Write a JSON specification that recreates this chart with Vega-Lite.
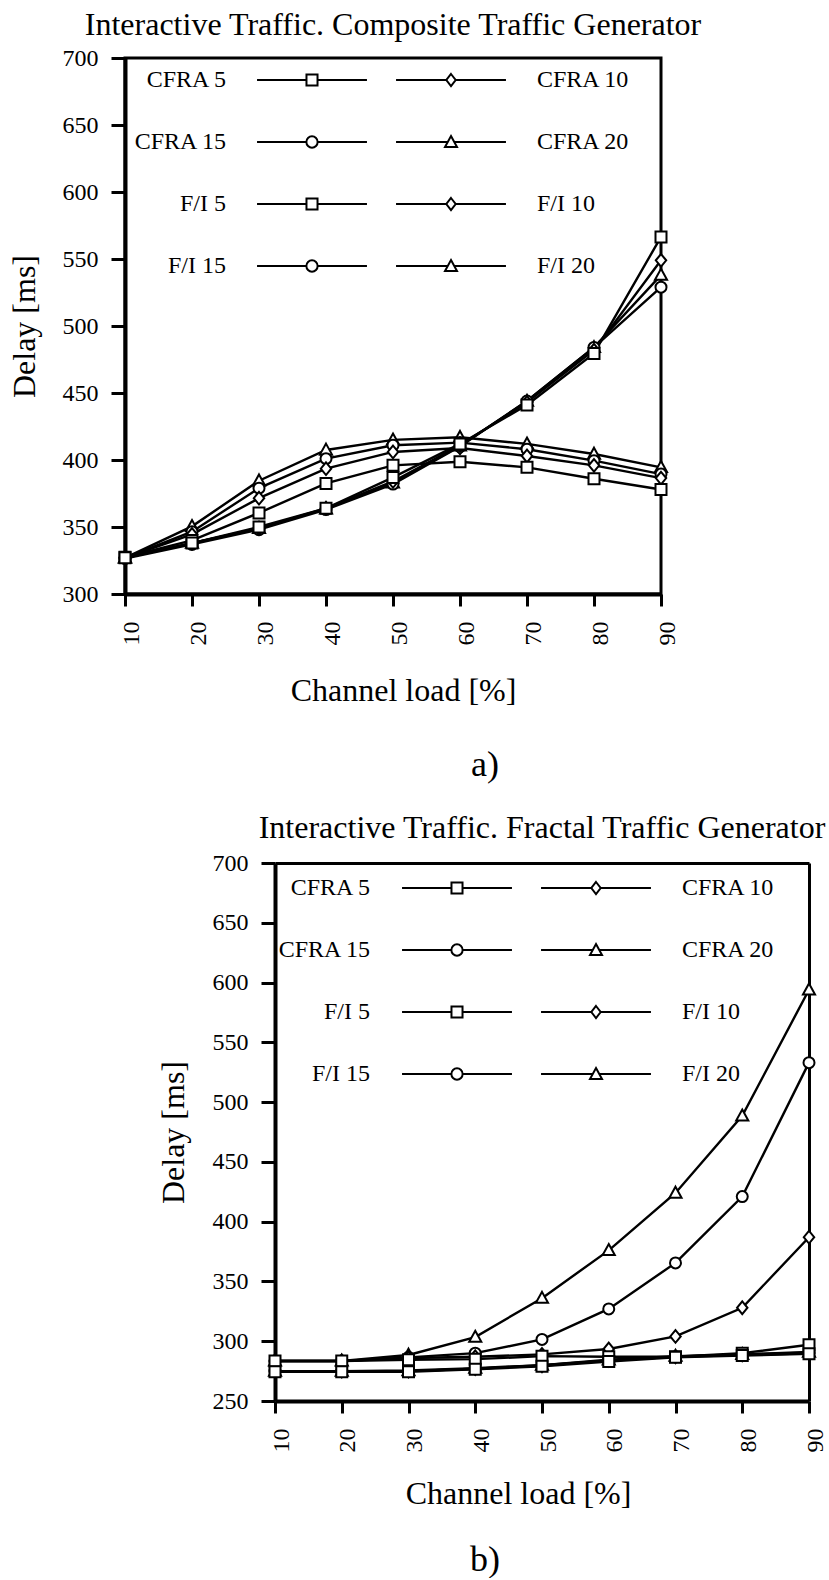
{
  "$schema": "https://vega.github.io/schema/vega-lite/v6.json",
  "background": "white",
  "padding": {"left": 0, "top": 7, "right": 0, "bottom": 0},
  "spacing": 29,
  "config": {
    "font": "Liberation Serif",
    "view": {"stroke": "black", "strokeWidth": 3},
    "axis": {
      "labelFont": "Liberation Serif", "labelFontSize": 24, "labelColor": "black",
      "titleFont": "Liberation Serif", "titleFontSize": 32, "titleFontWeight": "normal", "titleColor": "black",
      "domainColor": "black", "tickColor": "black", "grid": false,
      "domainWidth": 4, "tickWidth": 3, "labelFlush": false, "labelOverlap": false
    },
    "title": {"font": "Liberation Serif", "fontSize": 32, "fontWeight": "normal", "color": "black"},
    "legend": {"labelFont": "Liberation Serif", "labelFontSize": 24, "labelColor": "black", "padding": 0, "labelLimit": 0}
  },
  "datasets": {
    "a": [
      {"series":"F/I 20","load":10,"delay":327},{"series":"F/I 20","load":20,"delay":350.5},{"series":"F/I 20","load":30,"delay":384.5},{"series":"F/I 20","load":40,"delay":407.5},{"series":"F/I 20","load":50,"delay":415},{"series":"F/I 20","load":60,"delay":417},{"series":"F/I 20","load":70,"delay":412},{"series":"F/I 20","load":80,"delay":404.5},{"series":"F/I 20","load":90,"delay":394.5},
      {"series":"CFRA 20","load":10,"delay":327},{"series":"CFRA 20","load":20,"delay":338},{"series":"CFRA 20","load":30,"delay":349},{"series":"CFRA 20","load":40,"delay":363.5},{"series":"CFRA 20","load":50,"delay":383},{"series":"CFRA 20","load":60,"delay":410.5},{"series":"CFRA 20","load":70,"delay":444},{"series":"CFRA 20","load":80,"delay":484},{"series":"CFRA 20","load":90,"delay":538},
      {"series":"F/I 15","load":10,"delay":327},{"series":"F/I 15","load":20,"delay":346.5},{"series":"F/I 15","load":30,"delay":379},{"series":"F/I 15","load":40,"delay":401},{"series":"F/I 15","load":50,"delay":411},{"series":"F/I 15","load":60,"delay":413},{"series":"F/I 15","load":70,"delay":408},{"series":"F/I 15","load":80,"delay":399.5},{"series":"F/I 15","load":90,"delay":389.5},
      {"series":"CFRA 15","load":10,"delay":326.5},{"series":"CFRA 15","load":20,"delay":337},{"series":"CFRA 15","load":30,"delay":348},{"series":"CFRA 15","load":40,"delay":363},{"series":"CFRA 15","load":50,"delay":382},{"series":"CFRA 15","load":60,"delay":410},{"series":"CFRA 15","load":70,"delay":444},{"series":"CFRA 15","load":80,"delay":484},{"series":"CFRA 15","load":90,"delay":529},
      {"series":"F/I 10","load":10,"delay":327},{"series":"F/I 10","load":20,"delay":344.5},{"series":"F/I 10","load":30,"delay":371.5},{"series":"F/I 10","load":40,"delay":393.5},{"series":"F/I 10","load":50,"delay":406},{"series":"F/I 10","load":60,"delay":409},{"series":"F/I 10","load":70,"delay":403},{"series":"F/I 10","load":80,"delay":396},{"series":"F/I 10","load":90,"delay":386.5},
      {"series":"CFRA 10","load":10,"delay":327},{"series":"CFRA 10","load":20,"delay":338},{"series":"CFRA 10","load":30,"delay":349},{"series":"CFRA 10","load":40,"delay":364},{"series":"CFRA 10","load":50,"delay":384},{"series":"CFRA 10","load":60,"delay":411},{"series":"CFRA 10","load":70,"delay":443},{"series":"CFRA 10","load":80,"delay":482},{"series":"CFRA 10","load":90,"delay":549},
      {"series":"F/I 5","load":10,"delay":327.5},{"series":"F/I 5","load":20,"delay":340},{"series":"F/I 5","load":30,"delay":360.5},{"series":"F/I 5","load":40,"delay":382.5},{"series":"F/I 5","load":50,"delay":396},{"series":"F/I 5","load":60,"delay":398.7},{"series":"F/I 5","load":70,"delay":394.5},{"series":"F/I 5","load":80,"delay":386},{"series":"F/I 5","load":90,"delay":378},
      {"series":"CFRA 5","load":10,"delay":327},{"series":"CFRA 5","load":20,"delay":338},{"series":"CFRA 5","load":30,"delay":350},{"series":"CFRA 5","load":40,"delay":364},{"series":"CFRA 5","load":50,"delay":387},{"series":"CFRA 5","load":60,"delay":412},{"series":"CFRA 5","load":70,"delay":441},{"series":"CFRA 5","load":80,"delay":479.5},{"series":"CFRA 5","load":90,"delay":566.5}
    ],
    "b": [
      {"series":"F/I 20","load":10,"delay":283.5},{"series":"F/I 20","load":20,"delay":283.5},{"series":"F/I 20","load":30,"delay":288.5},{"series":"F/I 20","load":40,"delay":303.5},{"series":"F/I 20","load":50,"delay":336},{"series":"F/I 20","load":60,"delay":376},{"series":"F/I 20","load":70,"delay":424},{"series":"F/I 20","load":80,"delay":488.5},{"series":"F/I 20","load":90,"delay":594},
      {"series":"CFRA 20","load":10,"delay":275},{"series":"CFRA 20","load":20,"delay":275},{"series":"CFRA 20","load":30,"delay":275.5},{"series":"CFRA 20","load":40,"delay":277.5},{"series":"CFRA 20","load":50,"delay":280},{"series":"CFRA 20","load":60,"delay":284.5},{"series":"CFRA 20","load":70,"delay":287.5},{"series":"CFRA 20","load":80,"delay":289},{"series":"CFRA 20","load":90,"delay":291},
      {"series":"F/I 15","load":10,"delay":283.5},{"series":"F/I 15","load":20,"delay":283.5},{"series":"F/I 15","load":30,"delay":286.5},{"series":"F/I 15","load":40,"delay":290},{"series":"F/I 15","load":50,"delay":301.5},{"series":"F/I 15","load":60,"delay":327},{"series":"F/I 15","load":70,"delay":365.5},{"series":"F/I 15","load":80,"delay":421},{"series":"F/I 15","load":90,"delay":533},
      {"series":"CFRA 15","load":10,"delay":275},{"series":"CFRA 15","load":20,"delay":275},{"series":"CFRA 15","load":30,"delay":275},{"series":"CFRA 15","load":40,"delay":277},{"series":"CFRA 15","load":50,"delay":280},{"series":"CFRA 15","load":60,"delay":284},{"series":"CFRA 15","load":70,"delay":287},{"series":"CFRA 15","load":80,"delay":289},{"series":"CFRA 15","load":90,"delay":290.5},
      {"series":"F/I 10","load":10,"delay":283.5},{"series":"F/I 10","load":20,"delay":283.5},{"series":"F/I 10","load":30,"delay":286},{"series":"F/I 10","load":40,"delay":287},{"series":"F/I 10","load":50,"delay":289},{"series":"F/I 10","load":60,"delay":293.5},{"series":"F/I 10","load":70,"delay":304},{"series":"F/I 10","load":80,"delay":328},{"series":"F/I 10","load":90,"delay":387},
      {"series":"CFRA 10","load":10,"delay":275},{"series":"CFRA 10","load":20,"delay":275},{"series":"CFRA 10","load":30,"delay":275},{"series":"CFRA 10","load":40,"delay":277},{"series":"CFRA 10","load":50,"delay":279.5},{"series":"CFRA 10","load":60,"delay":284},{"series":"CFRA 10","load":70,"delay":287},{"series":"CFRA 10","load":80,"delay":288.5},{"series":"CFRA 10","load":90,"delay":290},
      {"series":"F/I 5","load":10,"delay":283.5},{"series":"F/I 5","load":20,"delay":283.5},{"series":"F/I 5","load":30,"delay":284.5},{"series":"F/I 5","load":40,"delay":285},{"series":"F/I 5","load":50,"delay":287.5},{"series":"F/I 5","load":60,"delay":287},{"series":"F/I 5","load":70,"delay":287},{"series":"F/I 5","load":80,"delay":290},{"series":"F/I 5","load":90,"delay":297},
      {"series":"CFRA 5","load":10,"delay":274.5},{"series":"CFRA 5","load":20,"delay":274.5},{"series":"CFRA 5","load":30,"delay":274.5},{"series":"CFRA 5","load":40,"delay":276.5},{"series":"CFRA 5","load":50,"delay":279},{"series":"CFRA 5","load":60,"delay":283},{"series":"CFRA 5","load":70,"delay":286.5},{"series":"CFRA 5","load":80,"delay":288},{"series":"CFRA 5","load":90,"delay":289.5}
    ]
  },
  "vconcat": [
    {
      "title": {"text": "a)", "orient": "bottom", "anchor": "start", "frame": "group", "dx": 360, "align": "center", "baseline": "alphabetic", "offset": 68, "fontSize": 36},
      "vconcat": [
        {
          "width": 536, "height": 536,
          "title": {"text": "Interactive Traffic. Composite Traffic Generator", "frame": "group", "anchor": "middle", "baseline": "alphabetic", "offset": -21},
          "data": {"name": "a"},
          "layer": [
            {
              "mark": {"type": "line", "color": "black", "strokeWidth": 2.4},
              "encoding": {
                "x": {"field": "load", "type": "quantitative", "scale": {"domain": [10, 90], "nice": false, "zero": false},
                  "axis": {"title": "Channel load [%]", "values": [10,20,30,40,50,60,70,80,90], "labelAngle": -90, "labelAlign": "right", "labelBaseline": "middle", "labelOffset": 6, "labelPadding": 15, "tickSize": 12, "titleX": 278, "titleY": 106, "titleBaseline": "alphabetic", "titleAlign": "center"}},
                "y": {"field": "delay", "type": "quantitative", "scale": {"domain": [300, 700], "nice": false, "zero": false},
                  "axis": {"title": "Delay [ms]", "values": [300,350,400,450,500,550,600,650,700], "tickSize": 14, "labelPadding": 13, "minExtent": 123, "titleX": -101, "titleY": 268, "titleAngle": -90, "titleBaseline": "middle", "titleAlign": "center"}},
                "detail": {"field": "series", "type": "nominal"}
              }
            },
            {
              "mark": {"type": "point", "filled": true, "fill": "white", "stroke": "black", "strokeWidth": 2, "size": 121, "opacity": 1},
              "encoding": {
                "x": {"field": "load", "type": "quantitative"},
                "y": {"field": "delay", "type": "quantitative"},
                "shape": {"field": "series", "type": "nominal", "legend": null,
                  "scale": {"domain": ["CFRA 5","CFRA 10","CFRA 15","CFRA 20","F/I 5","F/I 10","F/I 15","F/I 20"],
                    "range": ["M-1,-1L1,-1L1,1L-1,1Z","M0,-1.15L0.95,0L0,1.15L-0.95,0Z","circle","M0,-1.15L1.1,0.85L-1.1,0.85Z","M-1,-1L1,-1L1,1L-1,1Z","M0,-1.15L0.95,0L0,1.15L-0.95,0Z","circle","M0,-1.15L1.1,0.85L-1.1,0.85Z"]}}
              }
            },
            {
              "data": {"values": []},
              "mark": {"type": "point", "filled": true, "fill": "white", "stroke": "black", "strokeWidth": 2, "opacity": 1},
              "encoding": {
                "shape": {"field": "series", "type": "nominal",
                  "scale": {"domain": ["CFRA 5","CFRA 15","F/I 5","F/I 15"],
                    "range": ["M-4.58,0L-0.46,0M0.46,0L4.58,0M-0.46,-0.46L0.46,-0.46L0.46,0.46L-0.46,0.46Z","M-4.58,0L-0.47,0M0.47,0L4.58,0M0.47,0A0.47,0.47,0,1,1,-0.47,0A0.47,0.47,0,1,1,0.47,0Z","M-4.58,0L-0.46,0M0.46,0L4.58,0M-0.46,-0.46L0.46,-0.46L0.46,0.46L-0.46,0.46Z","M-4.58,0L-0.47,0M0.47,0L4.58,0M0.47,0A0.47,0.47,0,1,1,-0.47,0A0.47,0.47,0,1,1,0.47,0Z"]},
                  "legend": {"orient": "none", "legendX": 174, "legendY": 9, "title": null, "labelAlign": "right", "labelBaseline": "middle", "labelOffset": -99, "symbolSize": 576, "rowPadding": 37, "symbolStrokeWidth": 2}}
              }
            },
            {
              "data": {"values": []},
              "mark": {"type": "point", "filled": true, "fill": "white", "stroke": "black", "strokeWidth": 2, "opacity": 1},
              "encoding": {
                "shape": {"field": "series", "type": "nominal",
                  "scale": {"domain": ["CFRA 10","CFRA 20","F/I 10","F/I 20"],
                    "range": ["M-4.58,0L-0.39,0M0.39,0L4.58,0M0,-0.5L0.39,0L0,0.5L-0.39,0Z","M-4.58,0L-0.27,0M0.27,0L4.58,0M0,-0.5L0.5,0.42L-0.5,0.42Z","M-4.58,0L-0.39,0M0.39,0L4.58,0M0,-0.5L0.39,0L0,0.5L-0.39,0Z","M-4.58,0L-0.27,0M0.27,0L4.58,0M0,-0.5L0.5,0.42L-0.5,0.42Z"]},
                  "legend": {"orient": "none", "legendX": 313, "legendY": 9, "title": null, "labelAlign": "left", "labelBaseline": "middle", "labelOffset": 73, "symbolSize": 576, "rowPadding": 37, "symbolStrokeWidth": 2}}
              }
            }
          ],
          "resolve": {"scale": {"shape": "independent"}, "legend": {"shape": "independent"}}
        }
      ]
    },
    {
      "title": {"text": "b)", "orient": "bottom", "anchor": "start", "frame": "group", "dx": 360, "align": "center", "baseline": "alphabetic", "offset": 62, "fontSize": 36},
      "vconcat": [
        {
          "width": 684, "height": 538,
          "view": {"stroke": null},
          "title": {"text": "Interactive Traffic. Fractal Traffic Generator", "frame": "group", "anchor": "middle", "dx": 75, "baseline": "alphabetic", "offset": -19},
          "data": {"name": "b"},
          "layer": [
            {
              "mark": {"type": "line", "color": "black", "strokeWidth": 2.4},
              "encoding": {
                "x": {"field": "load", "type": "quantitative", "scale": {"domain": [10, 90], "nice": false, "zero": false, "rangeMin": 150},
                  "axis": {"title": "Channel load [%]", "values": [10,20,30,40,50,60,70,80,90], "labelAngle": -90, "labelAlign": "right", "labelBaseline": "middle", "labelOffset": 6, "labelPadding": 15, "tickSize": 12, "titleX": 393, "titleY": 102, "titleBaseline": "alphabetic", "titleAlign": "center"}},
                "y": {"field": "delay", "type": "quantitative", "scale": {"domain": [250, 700], "nice": false, "zero": false},
                  "axis": {"title": "Delay [ms]", "values": [250,300,350,400,450,500,550,600,650,700], "offset": -150, "tickSize": 14, "labelPadding": 13, "titleX": -102, "titleY": 269, "titleAngle": -90, "titleBaseline": "middle", "titleAlign": "center"}},
                "detail": {"field": "series", "type": "nominal"}
              }
            },
            {
              "mark": {"type": "point", "filled": true, "fill": "white", "stroke": "black", "strokeWidth": 2, "size": 121, "opacity": 1},
              "encoding": {
                "x": {"field": "load", "type": "quantitative", "axis": null},
                "y": {"field": "delay", "type": "quantitative", "axis": null},
                "shape": {"field": "series", "type": "nominal", "legend": null,
                  "scale": {"domain": ["CFRA 5","CFRA 10","CFRA 15","CFRA 20","F/I 5","F/I 10","F/I 15","F/I 20"],
                    "range": ["M-1,-1L1,-1L1,1L-1,1Z","M0,-1.15L0.95,0L0,1.15L-0.95,0Z","circle","M0,-1.15L1.1,0.85L-1.1,0.85Z","M-1,-1L1,-1L1,1L-1,1Z","M0,-1.15L0.95,0L0,1.15L-0.95,0Z","circle","M0,-1.15L1.1,0.85L-1.1,0.85Z"]}}
              }
            },
            {
              "data": {"values": []},
              "mark": {"type": "point", "opacity": 1},
              "encoding": {
                "x": {"field": "load", "type": "quantitative", "axis": {"orient": "top", "ticks": false, "labels": false, "title": null, "domainWidth": 3}},
                "y": {"field": "delay", "type": "quantitative", "axis": {"orient": "right", "ticks": false, "labels": false, "title": null, "domainWidth": 3}}
              }
            },
            {
              "data": {"values": []},
              "mark": {"type": "point", "filled": true, "fill": "white", "stroke": "black", "strokeWidth": 2, "opacity": 1},
              "encoding": {
                "shape": {"field": "series", "type": "nominal",
                  "scale": {"domain": ["CFRA 5","CFRA 15","F/I 5","F/I 15"],
                    "range": ["M-4.58,0L-0.46,0M0.46,0L4.58,0M-0.46,-0.46L0.46,-0.46L0.46,0.46L-0.46,0.46Z","M-4.58,0L-0.47,0M0.47,0L4.58,0M0.47,0A0.47,0.47,0,1,1,-0.47,0A0.47,0.47,0,1,1,0.47,0Z","M-4.58,0L-0.46,0M0.46,0L4.58,0M-0.46,-0.46L0.46,-0.46L0.46,0.46L-0.46,0.46Z","M-4.58,0L-0.47,0M0.47,0L4.58,0M0.47,0A0.47,0.47,0,1,1,-0.47,0A0.47,0.47,0,1,1,0.47,0Z"]},
                  "legend": {"orient": "none", "legendX": 319, "legendY": 12, "title": null, "labelAlign": "right", "labelBaseline": "middle", "labelOffset": -100, "symbolSize": 576, "rowPadding": 37, "symbolStrokeWidth": 2}}
              }
            },
            {
              "data": {"values": []},
              "mark": {"type": "point", "filled": true, "fill": "white", "stroke": "black", "strokeWidth": 2, "opacity": 1},
              "encoding": {
                "shape": {"field": "series", "type": "nominal",
                  "scale": {"domain": ["CFRA 10","CFRA 20","F/I 10","F/I 20"],
                    "range": ["M-4.58,0L-0.39,0M0.39,0L4.58,0M0,-0.5L0.39,0L0,0.5L-0.39,0Z","M-4.58,0L-0.27,0M0.27,0L4.58,0M0,-0.5L0.5,0.42L-0.5,0.42Z","M-4.58,0L-0.39,0M0.39,0L4.58,0M0,-0.5L0.39,0L0,0.5L-0.39,0Z","M-4.58,0L-0.27,0M0.27,0L4.58,0M0,-0.5L0.5,0.42L-0.5,0.42Z"]},
                  "legend": {"orient": "none", "legendX": 458, "legendY": 12, "title": null, "labelAlign": "left", "labelBaseline": "middle", "labelOffset": 73, "symbolSize": 576, "rowPadding": 37, "symbolStrokeWidth": 2}}
              }
            }
          ],
          "resolve": {"scale": {"shape": "independent"}, "legend": {"shape": "independent"}, "axis": {"x": "independent", "y": "independent"}}
        }
      ]
    }
  ]
}
